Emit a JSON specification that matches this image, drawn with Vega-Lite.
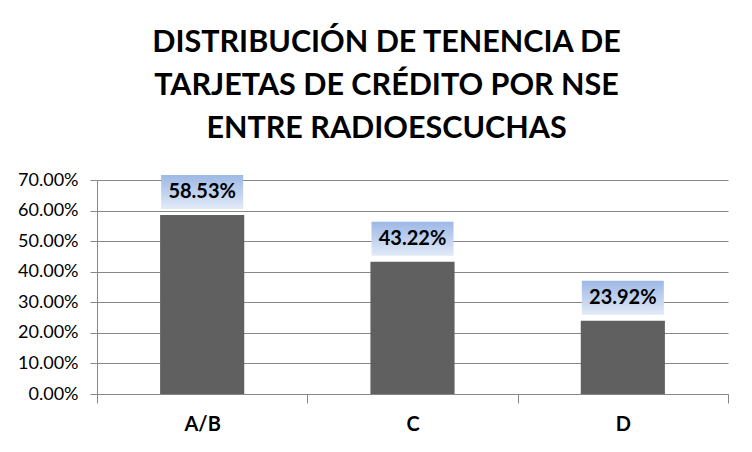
{
  "$schema": "https://vega.github.io/schema/vega-lite/v6.json",
  "autosize": {"type": "none"},
  "padding": {"left": 97, "top": 180, "right": 24, "bottom": 58},
  "width": 631,
  "height": 214,
  "background": "white",
  "title": {
    "text": ["DISTRIBUCIÓN DE TENENCIA DE", "TARJETAS DE CRÉDITO POR NSE", "ENTRE RADIOESCUCHAS"],
    "font": "Lato",
    "fontSize": 30.5,
    "fontWeight": "bold",
    "color": "#000000",
    "lineHeight": 43,
    "anchor": "middle",
    "dx": -26,
    "offset": 27
  },
  "data": {
    "values": [
      {"nse": "A/B", "pct": 0.5853},
      {"nse": "C", "pct": 0.4322},
      {"nse": "D", "pct": 0.2392}
    ]
  },
  "encoding": {
    "x": {
      "field": "nse",
      "type": "nominal",
      "sort": null,
      "title": null,
      "scale": {"paddingInner": 0, "paddingOuter": 0},
      "axis": {
        "labelAngle": 0,
        "labelFont": "Lato",
        "labelFontSize": 20,
        "labelFontWeight": "bold",
        "labelColor": "#000000",
        "labelPadding": 11,
        "tickBand": "extent",
        "tickSize": 9,
        "tickColor": "#878787",
        "domainColor": "#878787",
        "grid": false
      }
    },
    "y": {
      "field": "pct",
      "type": "quantitative",
      "title": null,
      "scale": {"domain": [0, 0.7], "nice": false},
      "axis": {
        "values": [0, 0.1, 0.2, 0.3, 0.4, 0.5, 0.6, 0.7],
        "format": ".2%",
        "labelFont": "Lato",
        "labelFontSize": 18,
        "labelColor": "#000000",
        "labelPadding": 12,
        "tickSize": 7,
        "tickColor": "#878787",
        "domainColor": "#878787",
        "gridColor": "#878787",
        "grid": true
      }
    }
  },
  "layer": [
    {
      "mark": {"type": "bar", "color": "#606060", "width": {"band": 0.4}}
    },
    {
      "mark": {
        "type": "point",
        "filled": true,
        "opacity": 1,
        "shape": "M-1,-0.4146 L1,-0.4146 L1,0.4146 L-1,0.4146 Z",
        "size": 6724,
        "yOffset": -23,
        "strokeWidth": 0,
        "color": {
          "gradient": "linear",
          "x1": 0, "y1": 0, "x2": 0, "y2": 1,
          "stops": [
            {"offset": 0, "color": "#9db8e6"},
            {"offset": 1, "color": "#e2eaf7"}
          ]
        }
      }
    },
    {
      "mark": {
        "type": "text",
        "font": "Lato",
        "fontSize": 20,
        "fontWeight": "bold",
        "color": "#000000",
        "baseline": "middle",
        "yOffset": -23
      },
      "encoding": {
        "text": {"field": "pct", "type": "quantitative", "format": ".2%"}
      }
    }
  ],
  "config": {
    "view": {"stroke": null}
  }
}
